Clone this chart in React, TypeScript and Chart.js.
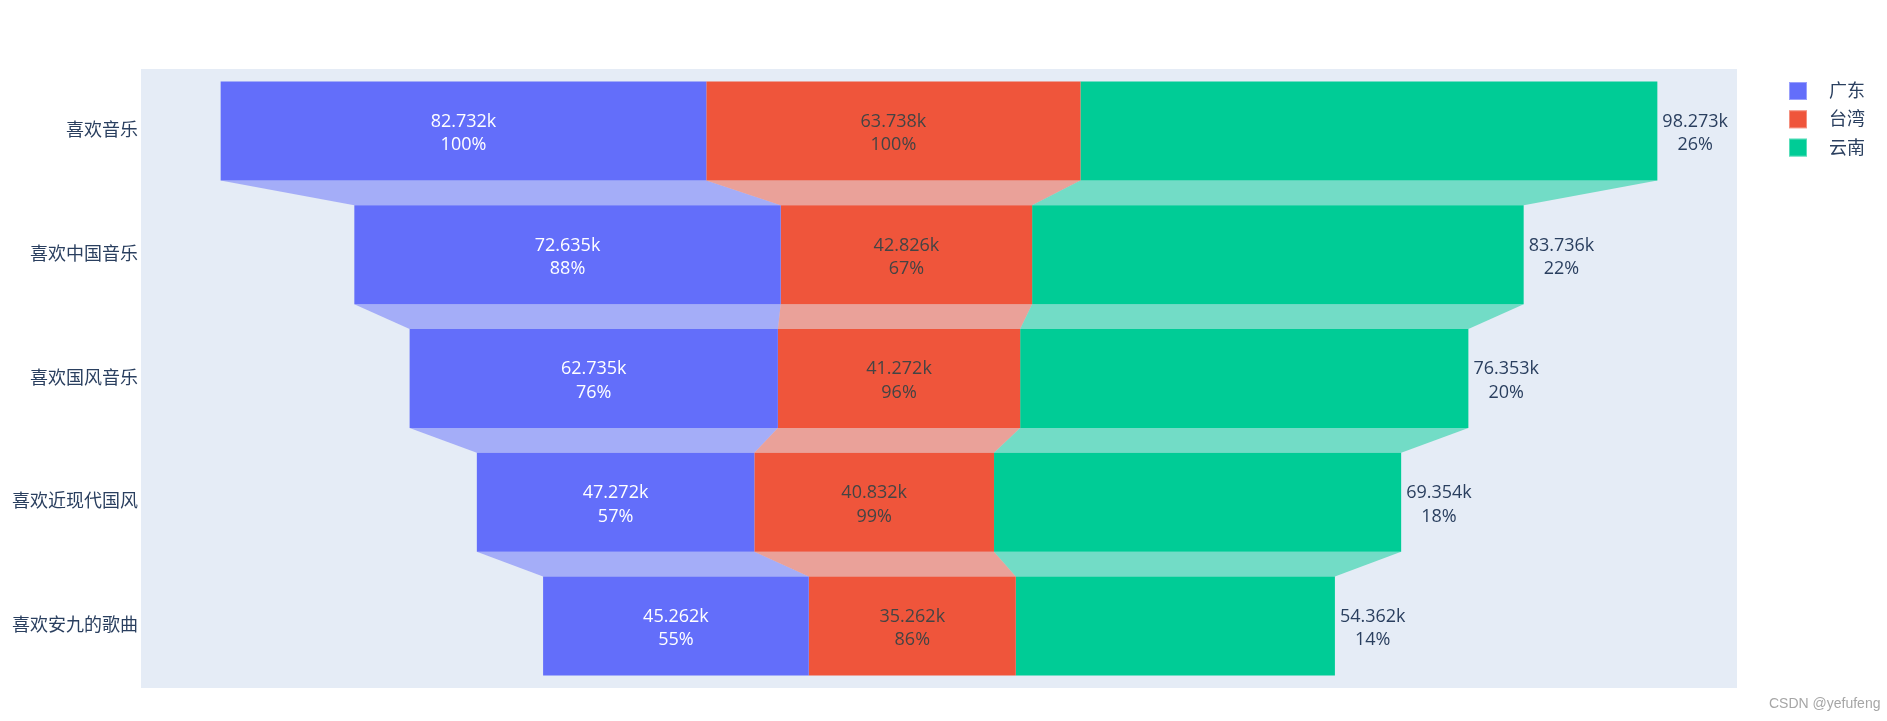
import React, { useEffect, useRef } from "react";
import { Chart, registerables } from "chart.js";

Chart.register(...registerables);

const categories = ["喜欢音乐", "喜欢中国音乐", "喜欢国风音乐", "喜欢近现代国风", "喜欢安九的歌曲"];
const seriesNames = ["广东", "台湾", "云南"];
const guangdong = [82732, 72635, 62735, 47272, 45262];
const taiwan = [63738, 42826, 41272, 40832, 35262];
const yunnan = [98273, 83736, 76353, 69354, 54362];
const percentModes = ["initial", "previous", "total"];
const colors = ["#636efa", "#EF553B", "#00cc96"];
const connectorColors = ["rgba(99,110,250,0.5)", "rgba(239,85,59,0.5)", "rgba(0,204,150,0.5)"];
const textColors = ["#ffffff", "rgb(68,68,68)", "#2a3f5f"];
const xMin = -135940;
const xMax = 135940;

const FONT = '"Open Sans", "Noto Sans CJK SC", sans-serif';

const series = [guangdong, taiwan, yunnan];
const totals = categories.map((_, k) => series.reduce((s, arr) => s + arr[k], 0));
const floating = series.map((arr, i) =>
  arr.map((v, k) => {
    const start = -totals[k] / 2 + series.slice(0, i).reduce((s, a) => s + a[k], 0);
    return [start, start + v];
  })
);

function fmtValue(v: number) {
  return (v / 1000).toFixed(3) + "k";
}

function fmtPercent(i: number, k: number) {
  const arr = series[i];
  const mode = percentModes[i];
  let p = 1;
  if (mode === "initial") p = arr[k] / arr[0];
  else if (mode === "previous") p = k === 0 ? 1 : arr[k] / arr[k - 1];
  else p = arr[k] / arr.reduce((s, v) => s + v, 0);
  return Math.round(p * 100) + "%";
}

function getBar(el: any) {
  const p = el.getProps(["x", "y", "base", "height"], true);
  return {
    left: Math.min(p.x, p.base),
    right: Math.max(p.x, p.base),
    cy: p.y,
    h: p.height,
  };
}

const funnelPlugin = {
  id: "funnelPlugin",
  beforeDraw(chart: any) {
    const { ctx, chartArea } = chart;
    ctx.save();
    ctx.fillStyle = "#ffffff";
    ctx.fillRect(0, 0, chart.width, chart.height);
    ctx.fillStyle = "#E5ECF6";
    ctx.fillRect(chartArea.left, chartArea.top, chartArea.right - chartArea.left, chartArea.bottom - chartArea.top);
    ctx.restore();
  },
  beforeDatasetsDraw(chart: any) {
    const { ctx } = chart;
    ctx.save();
    chart.data.datasets.forEach((_: any, i: number) => {
      const meta = chart.getDatasetMeta(i);
      for (let k = 0; k < meta.data.length - 1; k++) {
        const a = getBar(meta.data[k]);
        const b = getBar(meta.data[k + 1]);
        const y0 = a.cy + a.h / 2;
        const y1 = b.cy - b.h / 2;
        ctx.beginPath();
        ctx.moveTo(a.left, y0);
        ctx.lineTo(a.right, y0);
        ctx.lineTo(b.right, y1);
        ctx.lineTo(b.left, y1);
        ctx.closePath();
        ctx.fillStyle = connectorColors[i];
        ctx.fill();
      }
    });
    ctx.restore();
  },
  afterDatasetsDraw(chart: any) {
    const { ctx } = chart;
    ctx.save();
    ctx.font = `18px ${FONT}`;
    ctx.textAlign = "center";
    ctx.textBaseline = "alphabetic";
    chart.data.datasets.forEach((_: any, i: number) => {
      const meta = chart.getDatasetMeta(i);
      meta.data.forEach((el: any, k: number) => {
        const bar = getBar(el);
        const l1 = fmtValue(series[i][k]);
        const l2 = fmtPercent(i, k);
        let cx = (bar.left + bar.right) / 2;
        if (i === 2) {
          const w = Math.max(ctx.measureText(l1).width, ctx.measureText(l2).width);
          cx = bar.right + 5 + w / 2;
        }
        ctx.fillStyle = textColors[i];
        ctx.fillText(l1, cx, bar.cy - 4.2);
        ctx.fillText(l2, cx, bar.cy + 19.3);
      });
    });
    ctx.restore();
  },
  afterDraw(chart: any) {
    const { ctx } = chart;
    ctx.save();
    // legend
    const legendX = 1789;
    const legendY0 = 91;
    const step = 28.3;
    ctx.font = `18px ${FONT}`;
    ctx.textAlign = "left";
    ctx.textBaseline = "middle";
    seriesNames.forEach((name, i) => {
      const cy = legendY0 + i * step;
      ctx.fillStyle = colors[i];
      ctx.fillRect(legendX, cy - 9, 18, 18);
      ctx.strokeStyle = "rgba(255,255,255,0.35)";
      ctx.lineWidth = 1;
      ctx.strokeRect(legendX + 0.5, cy - 8.5, 17, 17);
      ctx.fillStyle = "#2a3f5f";
      ctx.fillText(name, 1829, cy + 1);
    });
    // watermark
    ctx.font = '14px "Liberation Sans", Arial, sans-serif';
    ctx.fillStyle = "#a6a6a6";
    ctx.textAlign = "left";
    ctx.textBaseline = "middle";
    ctx.fillText("CSDN @yefufeng", 1769, 704);
    ctx.restore();
  },
};

export default function App() {
  const canvasRef = useRef<HTMLCanvasElement | null>(null);

  useEffect(() => {
    document.body.style.margin = "0";
    const canvas = canvasRef.current;
    if (!canvas) return;
    const chart = new Chart(canvas, {
      type: "bar",
      data: {
        labels: categories,
        datasets: seriesNames.map((name, i) => ({
          label: name,
          data: floating[i] as any,
          backgroundColor: colors[i],
          borderWidth: 0,
          grouped: false,
          barPercentage: 0.8,
          categoryPercentage: 1,
        })),
      },
      options: {
        indexAxis: "y",
        responsive: false,
        maintainAspectRatio: false,
        animation: false,
        devicePixelRatio: 1,
        layout: { padding: { top: 69, bottom: 33, right: 150, left: 0 } },
        scales: {
          x: { display: false, min: xMin, max: xMax },
          y: {
            grid: { display: false, drawTicks: false },
            border: { display: false },
            ticks: {
              padding: 3,
              color: "#2a3f5f",
              font: { family: FONT, size: 18 },
            },
            afterFit: (scale: any) => {
              scale.width = 141;
            },
          },
        },
        plugins: {
          legend: { display: false },
          tooltip: { enabled: false },
        },
      },
      plugins: [funnelPlugin],
    });
    return () => chart.destroy();
  }, []);

  return (
    <div style={{ position: "absolute", left: 0, top: 0, width: 1887, height: 721 }}>
      <canvas ref={canvasRef} width={1887} height={721} style={{ width: 1887, height: 721 }} />
    </div>
  );
}
